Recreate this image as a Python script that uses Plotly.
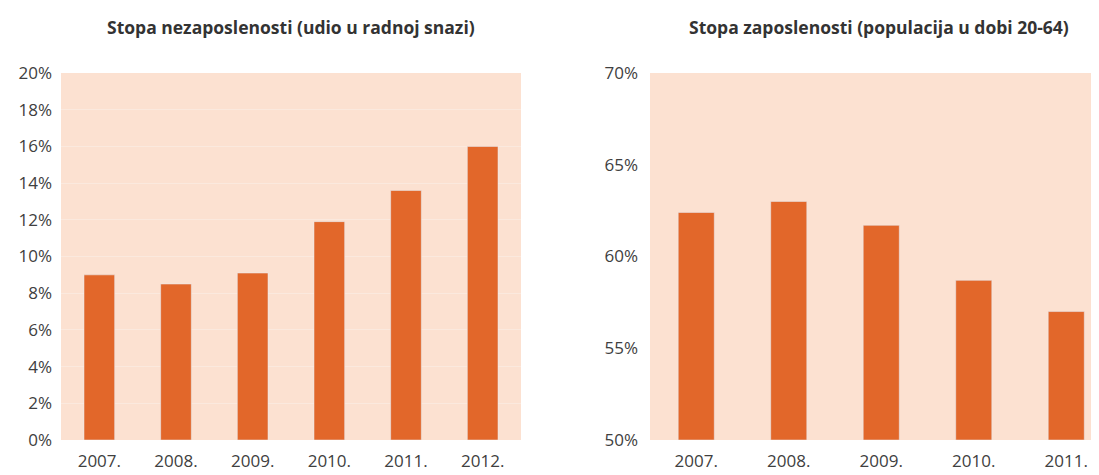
import plotly.graph_objects as go

years_left = ["2007.", "2008.", "2009.", "2010.", "2011.", "2012."]
unemployment = [9.0, 8.5, 9.1, 11.9, 13.6, 16.0]
years_right = ["2007.", "2008.", "2009.", "2010.", "2011.", "2012."]
employment = [62.4, 63.0, 61.7, 58.7, 57.0, 56.0]

title_left = "Stopa nezaposlenosti (udio u radnoj snazi)"
title_right = "Stopa zaposlenosti (populacija u dobi 20-64)"

left_ticks = list(range(0, 21, 2))
right_ticks = list(range(50, 71, 5))

BAR = "#E2672A"
BG = "#FCE1D1"
GRID = "#FBE9DE"
TXT = "#404040"
FONT = "Open Sans"

# page body has an 8px margin, so the figure is drawn 8px in from the window edge
W, H = 1091, 467
T, B = 65, 35
plot_h = H - T - B

fig = go.Figure()
fig.add_trace(go.Bar(x=years_left, y=unemployment, marker_color=BAR, width=0.4,
                     xaxis="x", yaxis="y", showlegend=False))
fig.add_trace(go.Bar(x=years_right, y=[v - 50 for v in employment], base=50,
                     marker_color=BAR, width=0.39,
                     xaxis="x2", yaxis="y2", showlegend=False))

fig.update_layout(
    width=W, height=H,
    margin=dict(l=0, r=0, t=T, b=B),
    paper_bgcolor="white",
    plot_bgcolor=BG,
    font=dict(family=FONT, size=17, color=TXT),
    xaxis=dict(domain=[53 / W, 513 / W], type="category", range=[-0.5, 5.5],
               showgrid=False, zeroline=False, showline=False, ticks="",
               automargin=False,
               ticklabelstandoff=9, tickfont=dict(size=17, color=TXT)),
    yaxis=dict(range=[0, 20], tickvals=left_ticks,
               ticktext=[f"{v}%" for v in left_ticks],
               showgrid=True, gridcolor=GRID, gridwidth=1, zeroline=False,
               showline=False, ticks="", ticklabelstandoff=8, automargin=False,
               tickfont=dict(size=17, color=TXT)),
    xaxis2=dict(domain=[642 / W, 1.0], type="category",
                categoryorder="array", categoryarray=years_right,
                range=[-0.5, 4.354], automargin=False,
                showgrid=False, zeroline=False, showline=False, ticks="",
                ticklabelstandoff=9, tickfont=dict(size=17, color=TXT),
                anchor="y2"),
    yaxis2=dict(domain=[0, 1], range=[50, 70], tickvals=right_ticks,
                ticktext=[f"{v}%" for v in right_ticks], automargin=False,
                showgrid=False, zeroline=False, showline=False, ticks="",
                ticklabelstandoff=11, tickfont=dict(size=17, color=TXT),
                anchor="x2"),
    annotations=[
        dict(text=f"<b>{title_left}</b>", x=283 / W, y=1 + (T - 19) / plot_h,
             xref="paper", yref="paper", showarrow=False,
             font=dict(family=FONT, size=17.5, color="#333333"),
             xanchor="center", yanchor="middle"),
        dict(text=f"<b>{title_right}</b>", x=871 / W, y=1 + (T - 19) / plot_h,
             xref="paper", yref="paper", showarrow=False,
             font=dict(family=FONT, size=17.5, color="#333333"),
             xanchor="center", yanchor="middle"),
    ],
)

fig.write_html("out.html")
